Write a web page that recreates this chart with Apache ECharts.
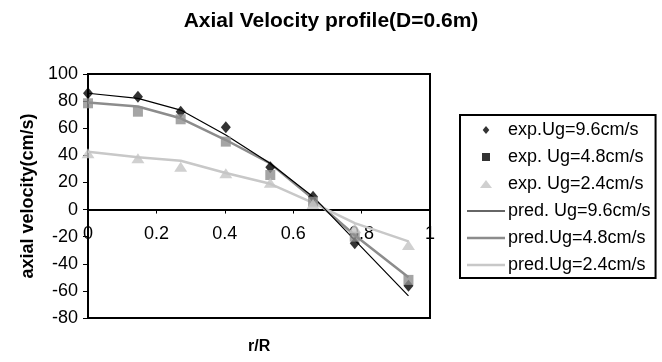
<!DOCTYPE html>
<html>
<head>
<meta charset="utf-8">
<script src="https://cdn.jsdelivr.net/npm/echarts@6/dist/echarts.min.js"></script>
<style>
  html, body { margin: 0; padding: 0; background: #fff; }
  #chart { width: 662px; height: 362px; }
</style>
</head>
<body>
<div id="chart"></div>
<script>
// r/R positions of the measuring points
const rR = [0, 0.146, 0.271, 0.403, 0.533, 0.658, 0.78, 0.937]

const exp96 = [85.8, 83.3, 72.2, 60.7, 31.2, 9.5, -24.9, -56.3]
const exp48 = [78.4, 72.2, 66.6, 50.1, 25.5, 5.8, -20, -51.9]
const exp24 = [41.5, 37.8, 31.6, 26.8, 19.8, 4.1, -13.8, -26.1]

const pred96 = [85.8, 82, 73.4, 55, 34, 9.5, -22.5, -63.7]
const pred48 = [79, 76, 67.3, 51.3, 34, 8, -19, -50]
const pred24 = [42.7, 38.5, 36, 27, 19, 5, -10, -23.5]

const seriesNames = [
  'exp.Ug=9.6cm/s', 'exp. Ug=4.8cm/s', 'exp. Ug=2.4cm/s',
  'pred. Ug=9.6cm/s', 'pred.Ug=4.8cm/s', 'pred.Ug=2.4cm/s'
]

const FONT = 'Liberation Sans, Arial, sans-serif'
const pairs = (ys) => rR.map((x, i) => [x, ys[i]])

// grid box, the x axis is drawn on the zero line (y = 0)
const GRID_TOP = 74, GRID_BOTTOM = 44, CHART_H = 362
const Y_MIN = -80, Y_MAX = 100
const plotH = CHART_H - GRID_TOP - GRID_BOTTOM
const zeroOffset = -plotH * (0 - Y_MIN) / (Y_MAX - Y_MIN)

const chart = echarts.init(document.getElementById('chart'))

chart.setOption({
  backgroundColor: '#fff',
  animation: false,
  title: {
    text: 'Axial Velocity profile(D=0.6m)',
    left: 'center',
    top: 6,
    textStyle: { fontFamily: FONT, fontSize: 21, fontWeight: 'bold', color: '#000' }
  },
  graphic: [{
    type: 'text',
    left: 248,
    top: 339,
    style: { text: 'r/R', font: 'bold 16px Liberation Sans, Arial, sans-serif', fill: '#000' }
  }],
  grid: {
    left: 88, right: 232, top: GRID_TOP, bottom: GRID_BOTTOM,
    show: true, borderColor: '#000', borderWidth: 2,
    containLabel: false,
    outerBoundsMode: 'none'
  },
  legend: {
    orient: 'vertical',
    left: 460,
    top: 115,
    padding: [6, 5, 4, 7],
    borderColor: '#000',
    borderWidth: 2,
    itemWidth: 38,
    itemHeight: 8,
    itemGap: 9,
    textStyle: { fontFamily: FONT, fontSize: 18, color: '#000', lineHeight: 18, padding: [0, 0, 0, -2] },
    data: [
      { name: seriesNames[0], icon: 'path://M5,0L10,6L5,12L0,6Z' },
      { name: seriesNames[1], icon: 'path://M0,0H10V10H0Z', itemStyle: { color: '#000' } },
      { name: seriesNames[2], icon: 'path://M6,0L12,8H0Z' },
      { name: seriesNames[3], icon: 'path://M0,0H38V1.3H0Z', itemStyle: { color: '#333' } },
      { name: seriesNames[4], icon: 'path://M0,0H38V2.4H0Z' },
      { name: seriesNames[5], icon: 'path://M0,0H38V2.4H0Z' }
    ]
  },
  xAxis: {
    type: 'value',
    min: 0, max: 1, interval: 0.2,
    offset: zeroOffset,
    axisLine: { onZero: false, lineStyle: { color: '#000', width: 2 } },
    axisTick: { show: true, length: 4, lineStyle: { color: '#000', width: 1 } },
    axisLabel: { color: '#000', fontFamily: FONT, fontSize: 18, margin: 15 },
    splitLine: { show: false }
  },
  yAxis: {
    type: 'value',
    min: Y_MIN, max: Y_MAX, interval: 20,
    name: 'axial velocity(cm/s)',
    nameLocation: 'middle',
    nameGap: 44,
    nameTextStyle: { fontFamily: FONT, fontSize: 18, fontWeight: 'bold', color: '#000' },
    axisLine: { show: true, lineStyle: { color: '#000', width: 2 } },
    axisTick: { show: true, length: 5, lineStyle: { color: '#000', width: 1 } },
    axisLabel: { color: '#000', fontFamily: FONT, fontSize: 18, margin: 10 },
    splitLine: { show: false }
  },
  series: [
    {
      name: seriesNames[3], type: 'line', data: pairs(pred96),
      symbol: 'none', lineStyle: { color: '#000', width: 1.2 }, itemStyle: { color: '#000' }, z: 3
    },
    {
      name: seriesNames[4], type: 'line', data: pairs(pred48),
      symbol: 'none', lineStyle: { color: '#8c8c8c', width: 2.5 }, itemStyle: { color: '#8c8c8c' }, z: 2
    },
    {
      name: seriesNames[5], type: 'line', data: pairs(pred24),
      symbol: 'none', lineStyle: { color: '#c8c8c8', width: 2.5 }, itemStyle: { color: '#c8c8c8' }, z: 2
    },
    {
      name: seriesNames[0], type: 'scatter', data: pairs(exp96),
      symbol: 'diamond', symbolSize: [10, 12], itemStyle: { color: '#000' }, z: 4
    },
    {
      name: seriesNames[1], type: 'scatter', data: pairs(exp48),
      symbol: 'rect', symbolSize: 10, itemStyle: { color: '#8f8f8f' }, z: 4
    },
    {
      name: seriesNames[2], type: 'scatter', data: pairs(exp24),
      symbol: 'triangle', symbolSize: [13, 10], itemStyle: { color: '#c4c4c4' }, z: 4
    }
  ]
})
</script>
</body>
</html>
